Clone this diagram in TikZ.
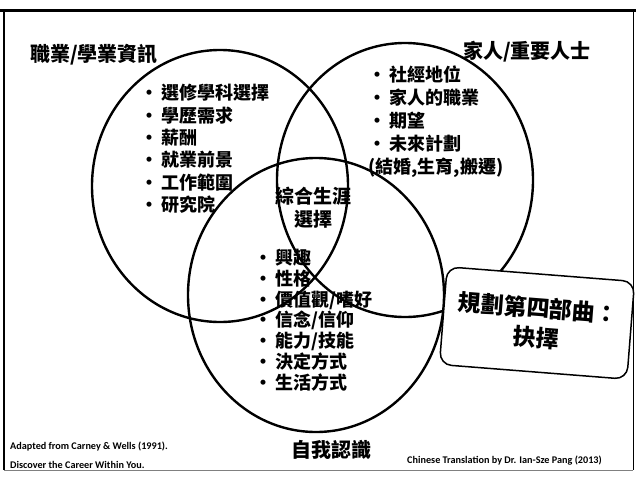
\documentclass[tikz,border=0pt]{standalone}
\usepackage{fontspec}
\newfontfamily\cjk{Noto Sans CJK TC}
\newfontfamily\latinfont{Carlito}
\newcommand\bul{•\kern3pt}
\tikzset{
  circ/.style={line width=2.4pt},
  biglabel/.style={font=\cjk\bfseries\fontsize{20}{24}\selectfont, inner sep=0pt},
  bulletlist/.style={align=left, inner sep=0pt, anchor=north west},
  credit/.style={font=\latinfont\bfseries\fontsize{10.2}{12}\selectfont, inner sep=0pt, anchor=west},
}
\begin{document}
\begin{tikzpicture}[x=1pt,y=-1pt]
\useasboundingbox (0,0) rectangle (636,477);
% frame
\draw[line width=3pt] (0,10) -- (636,10);
\draw[line width=2pt] (4,10) -- (4,470);
\draw[line width=0.8pt] (633,10) -- (633,470);
\draw[line width=0.8pt,gray] (4,470) -- (633,470);
% the three circles
\draw[circ] (220,186) ellipse [x radius=128, y radius=136];
\draw[circ] (405,180) ellipse [x radius=128, y radius=137];
\draw[circ] (316,295) ellipse [x radius=128, y radius=137];
% circle titles
\node[biglabel, anchor=west] (career) at (30,55) {職業/學業資訊};
\node[biglabel, anchor=west] (family) at (463,52) {家人/重要人士};
\node[biglabel] (self) at (331,450) {自我認識};
% lists
\node[bulletlist, font=\cjk\bfseries\fontsize{18}{22.4}\selectfont] (careerlist) at (140,84)
  {\bul 選修學科選擇\\\bul 學歷需求\\\bul 薪酬\\\bul 就業前景\\\bul 工作範圍\\\bul 研究院};
\node[bulletlist, font=\cjk\bfseries\fontsize{18}{22.8}\selectfont] (familylist) at (368,66)
  {\bul 社經地位\\\bul 家人的職業\\\bul 期望\\\bul 未來計劃\\(結婚,生育,搬遷)};
\node[bulletlist, font=\cjk\bfseries\fontsize{18}{20.8}\selectfont] (selflist) at (254,249)
  {\bul 興趣\\\bul 性格\\\bul 價值觀/嗜好\\\bul 信念/信仰\\\bul 能力/技能\\\bul 決定方式\\\bul 生活方式};
% centre
\node[align=center, inner sep=0pt, font=\cjk\bfseries\fontsize{19}{23}\selectfont] (choice) at (313,208)
  {綜合生涯\\選擇};
% stage box
\node[draw, line width=1.5pt, fill=white, rounded corners=12pt, rotate=-4.5,
      minimum width=188pt, minimum height=98pt, align=center,
      font=\cjk\bfseries\fontsize{23}{30}\selectfont] (stage) at (537,323)
  {規劃第四部曲：\\抉擇};
% credits
\node[credit] (src1) at (10,447) {Adapted from Carney \& Wells (1991).};
\node[credit] (src2) at (10,465) {Discover the Career Within You.};
\node[credit] (trans) at (407,461) {Chinese Translation by Dr. Ian-Sze Pang (2013)};
\end{tikzpicture}
\end{document}
